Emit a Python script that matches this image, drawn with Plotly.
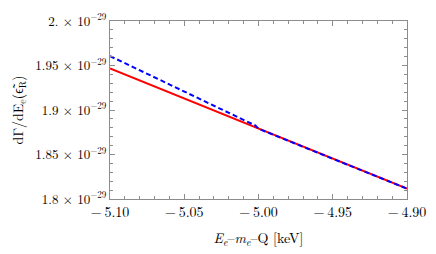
import plotly.graph_objects as go

# Data (keV, rate)
red_x = [-5.10, -5.00, -4.90]
red_y = [1.9468e-29, 1.8789e-29, 1.8116e-29]

blue_x = [-5.10, -5.08, -5.06, -5.04, -5.02, -5.01, -5.005, -5.002, -5.00, -4.90]
blue_y = [1.9606e-29, 1.9448e-29, 1.9290e-29, 1.9132e-29, 1.8974e-29,
          1.8895e-29, 1.8855e-29, 1.8825e-29, 1.8789e-29, 1.8116e-29]

x_ticks = [-5.10, -5.05, -5.00, -4.95, -4.90]
x_ticklabels = ["\u2212\u20095.10", "\u2212\u20095.05", "\u2212\u20095.00", "\u2212\u20094.95", "\u2212\u20094.90"]
y_ticks = [1.80e-29, 1.85e-29, 1.90e-29, 1.95e-29, 2.00e-29]
y_ticklabels = ["1.8 \u00d7 10<sup>\u221229</sup>", "1.85 \u00d7 10<sup>\u221229</sup>",
                "1.9 \u00d7 10<sup>\u221229</sup>", "1.95 \u00d7 10<sup>\u221229</sup>",
                "2. \u00d7 10<sup>\u221229</sup>"]

font_family = "Latin Modern Roman, Liberation Serif, serif"
fs = 14
fs_y = 13

fig = go.Figure()
fig.add_trace(go.Scatter(x=red_x, y=red_y, mode="lines",
                         line=dict(color="#ff0000", width=2), showlegend=False))
fig.add_trace(go.Scatter(x=blue_x, y=blue_y, mode="lines",
                         line=dict(color="#0000ff", width=2, dash="5px,3px"), showlegend=False))

axis_common = dict(showgrid=False, zeroline=False, showline=True, linecolor="#8c8c8c",
                   linewidth=1, mirror="ticks", ticks="inside", ticklen=5,
                   tickcolor="#8c8c8c", tickmode="array")

fig.update_layout(
    width=436, height=254, autosize=False,
    margin=dict(l=110, r=20, t=10, b=55),
    paper_bgcolor="white", plot_bgcolor="white",
    font=dict(family=font_family, size=fs, color="black"),
    xaxis=dict(range=[-5.10, -4.90], tickvals=x_ticks, ticktext=x_ticklabels,
               tickfont=dict(family=font_family, size=fs, color="black"),
               minor=dict(dtick=0.01, ticks="inside", ticklen=3, tickcolor="#8c8c8c"),
               title=dict(text="<i>E<sub>e</sub></i>\u2013<i>m<sub>e</sub></i>\u2013Q [keV]",
                          font=dict(family=font_family, size=fs), standoff=13),
               **axis_common),
    yaxis=dict(range=[1.80e-29, 2.00e-29], tickvals=y_ticks, ticktext=y_ticklabels,
               tickfont=dict(family=font_family, size=fs_y, color="black"),
               minor=dict(dtick=0.01e-29, ticks="inside", ticklen=3, tickcolor="#8c8c8c"),
               title=dict(text="d\u0393/dE<sub>e</sub>(\u03f5\u0303<sub>R</sub>)",
                          font=dict(family=font_family, size=fs), standoff=8),
               **axis_common),
)

# remove the page's default body margin so the 436x254 figure fills the window
fig.write_html("out.html", config={"displayModeBar": False},
               post_script="document.body.style.margin='0px';document.body.style.overflow='hidden';")
